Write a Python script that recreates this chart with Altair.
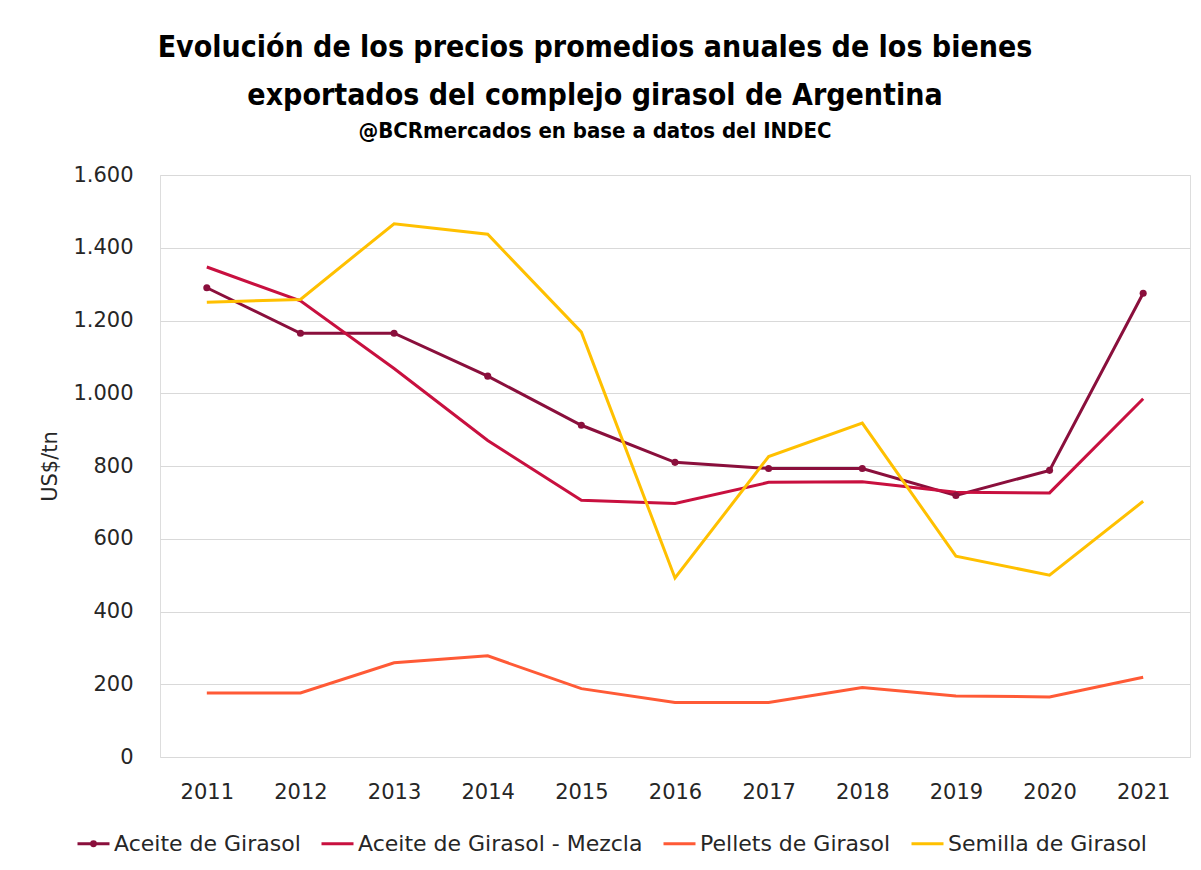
import altair as alt
import pandas as pd

years = ["2011", "2012", "2013", "2014", "2015", "2016", "2017", "2018", "2019", "2020", "2021"]
aceite = [1290, 1165, 1165, 1047, 912, 810, 793, 793, 719, 788, 1275]
mezcla = [1347, 1254, 1068, 870, 706, 697, 755, 757, 728, 726, 985]
pellets = [176, 176, 259, 278, 188, 150, 150, 191, 168, 165, 219]
semilla = [1250, 1258, 1466, 1437, 1168, 492, 826, 918, 552, 500, 703]
series_names = ["Aceite de Girasol", "Aceite de Girasol - Mezcla", "Pellets de Girasol", "Semilla de Girasol"]
series_colors = ["#8A0F3C", "#C8103F", "#FF5A36", "#FFC000"]
y_ticks = [0, 200, 400, 600, 800, 1000, 1200, 1400, 1600]

rows = []
for name, vals in zip(series_names, [aceite, mezcla, pellets, semilla]):
    for yr, v in zip(years, vals):
        rows.append({"Año": yr, "Serie": name, "Valor": v})
df = pd.DataFrame(rows)

LABEL_FONT = "DejaVu Sans"
TITLE_FONT = "'DejaVu Sans Condensed', 'Liberation Sans Narrow', sans-serif"
TEXT_COLOR = "#262626"

x_enc = alt.X(
    "Año:O",
    sort=years,
    scale=alt.Scale(type="point", padding=0.5),
    axis=alt.Axis(title=None, labelAngle=0, ticks=False, domain=False, grid=False,
                  labelPadding=24, labelFont=LABEL_FONT, labelFontSize=21, labelColor=TEXT_COLOR),
)
y_enc = alt.Y(
    "Valor:Q",
    scale=alt.Scale(domain=[0, 1600], nice=False),
    axis=alt.Axis(values=y_ticks, title="US$/tn", ticks=False, domain=False,
                  labelExpr="replace(format(datum.value, ',d'), ',', '.')",
                  labelPadding=27, labelFont=LABEL_FONT, labelFontSize=21, labelColor=TEXT_COLOR,
                  titleFont=LABEL_FONT, titleFontSize=21, titleFontWeight="normal", titleColor=TEXT_COLOR,
                  titlePadding=12, gridColor="#D9D9D9", gridWidth=1.2),
)

dot_path = "M-1,0H1M-0.12,0a0.12,0.12 0 1,0 0.24,0a0.12,0.12 0 1,0 -0.24,0"
first = series_names[0]

lines = alt.Chart(df).mark_line(strokeWidth=3).encode(
    x=x_enc,
    y=y_enc,
    color=alt.Color(
        "Serie:N",
        scale=alt.Scale(domain=series_names, range=series_colors),
        legend=alt.Legend(
            title=None, orient="none", direction="horizontal", legendX=-84, legendY=651,
            symbolType=alt.ExprRef(expr=f"datum.value === '{first}' ? '{dot_path}' : 'stroke'"),
            symbolFillColor=alt.ExprRef(expr=f"datum.value === '{first}' ? '{series_colors[0]}' : 'transparent'"),
            symbolStrokeWidth=3, symbolSize=1024,
            labelFont=LABEL_FONT, labelFontSize=22, labelColor=TEXT_COLOR, labelLimit=0,
            columnPadding=14, symbolOffset=0, labelOffset=3,
        ),
    ),
    order=alt.Order("Año:O"),
)

points = alt.Chart(df).transform_filter(
    alt.datum.Serie == first
).mark_point(filled=True, size=50, opacity=1).encode(
    x=alt.X("Año:O", sort=years),
    y="Valor:Q",
    color=alt.value(series_colors[0]),
)

chart = alt.layer(lines, points).properties(
    width=1030,
    height=582,
    title=alt.TitleParams(
        text=["Evolución de los precios promedios anuales de los bienes",
              "exportados del complejo girasol de Argentina"],
        subtitle="@BCRmercados en base a datos del INDEC",
        font=TITLE_FONT, fontSize=30, fontWeight="bold", color="#000000", lineHeight=48,
        subtitleFont=TITLE_FONT, subtitleFontSize=22, subtitleFontWeight="bold", subtitleColor="#000000",
        subtitlePadding=10, anchor="middle", dx=-80, offset=22,
    ),
    autosize=alt.AutoSizeParams(type="none"),
    padding={"left": 152, "top": 167, "right": 3, "bottom": 100},
).configure_view(stroke=None).configure(background="white")

chart.save("out.html", embed_options={"renderer": "svg", "actions": False})
